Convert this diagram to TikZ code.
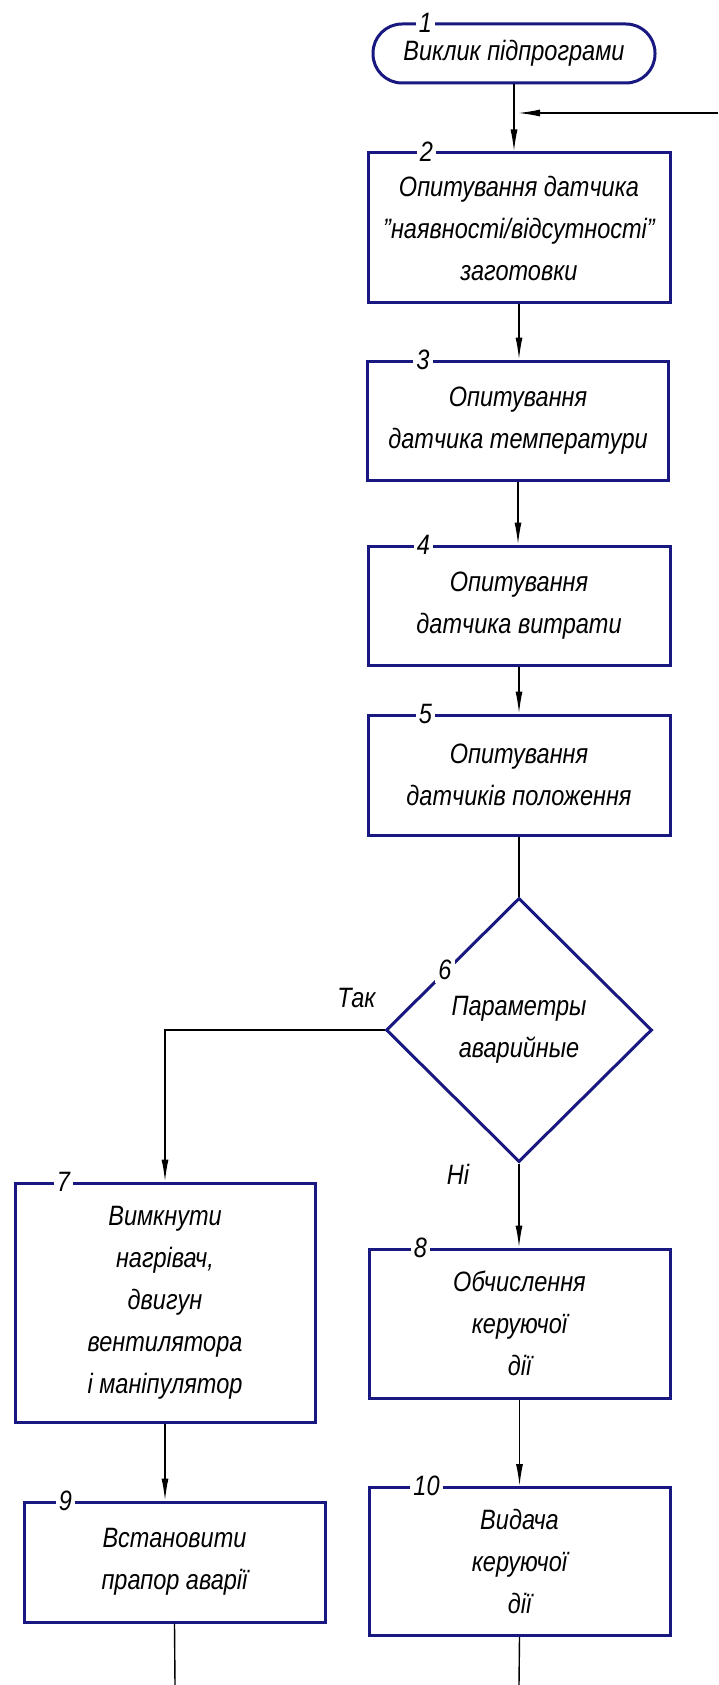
\documentclass[tikz,border=0pt]{standalone}
\usepackage{fontspec}
\setmainfont{Liberation Sans}[FakeStretch=0.84]
\usetikzlibrary{shapes.geometric,arrows.meta,calc}
\definecolor{frameblue}{RGB}{24,24,128}
\begin{document}
\begin{tikzpicture}[x=1pt,y=-1pt,
  every node/.style={font=\fontsize{28}{42}\selectfont\itshape},
  blk/.style={draw=frameblue, line width=3pt, fill=white, rectangle, align=center, inner sep=0pt},
  term/.style={blk, rounded corners=29pt},
  cond/.style={draw=frameblue, line width=3pt, fill=white, diamond, align=center, inner sep=0pt,
               minimum width=266pt, minimum height=264pt},
  num/.style={fill=white, inner sep=3pt},
  link/.style={line width=1.4pt, black},
  arr/.style={link, -{Latex[length=22pt,width=7pt]}},
]
\useasboundingbox (0,0) rectangle (718,1685);

% blocks of the subroutine
\node[term, minimum width=282pt, minimum height=59pt] (t1) at (514,53.5) {Виклик підпрограми};
\node[blk, minimum width=302pt, minimum height=150pt] (b2) at (519,228)
  {Опитування датчика\\"наявності/відсутності"\\заготовки};
\node[blk, minimum width=301pt, minimum height=119pt] (b3) at (518,420.5)
  {Опитування\\датчика температури};
\node[blk, minimum width=302pt, minimum height=119pt] (b4) at (519,605.5)
  {Опитування\\датчика витрати};
\node[blk, minimum width=302pt, minimum height=120pt] (b5) at (519,775)
  {Опитування\\датчиків положення};
\node[cond] (d6) at (519,1030) {Параметры\\аварийные};
\node[blk, minimum width=300pt, minimum height=239pt] (b7) at (165,1302.5)
  {Вимкнути\\нагрівач,\\двигун\\вентилятора\\і маніпулятор};
\node[blk, minimum width=301pt, minimum height=149pt] (b8) at (519.5,1323.5)
  {Обчислення\\керуючої\\дії};
\node[blk, minimum width=301pt, minimum height=120pt] (b9) at (174.5,1562)
  {Встановити\\прапор аварії};
\node[blk, minimum width=301pt, minimum height=148pt] (b10) at (519.5,1561.5)
  {Видача\\керуючої\\дії};

% block numbers set into the frames
\node[num] (n1) at ($(t1.north west)+(54,0)$) {1};
\node[num] (n2) at ($(b2.north west)+(60,0)$) {2};
\node[num] (n3) at ($(b3.north west)+(57,0)$) {3};
\node[num] (n4) at ($(b4.north west)+(57,0)$) {4};
\node[num] (n5) at ($(b5.north west)+(59,0)$) {5};
\node[num] (n6) at ($(d6.west)!0.45!(d6.north)$) {6};
\node[num] (n7) at ($(b7.north west)+(50,0)$) {7};
\node[num] (n8) at ($(b8.north west)+(53,0)$) {8};
\node[num] (n9) at ($(b9.north west)+(43,0)$) {9};
\node[num] (n10) at ($(b10.north west)+(59,0)$) {10};

% branch labels
\node (yes) at ($(d6.west)+(-28,-32)$) {Так};
\node (no) at ($(d6.south)+(-61,11)$) {Ні};

% free ends of the lines
\coordinate (loop) at (718,113);
\coordinate (out9) at (175,1685);
\coordinate (out10) at (519,1685);

% connectors
\draw[arr] (t1.south) -- (t1.south |- b2.north);
\draw[arr, shorten >=4pt] (loop) -- (loop -| t1.south);
\draw[arr] (b2.south) -- (b2.south |- b3.north);
\draw[arr] (b3.south) -- (b3.south |- b4.north);
\draw[arr] (b4.south) -- (b5.north);
\draw[link] (b5.south) -- (d6.north);
\draw[arr] (d6.west) -| (b7.north);
\draw[arr] (d6.south) -- (d6.south |- b8.north);
\draw[arr] (b7.south) -- (b7.south |- b9.north);
\draw[arr] (b8.south) -- (b10.north);
\draw[link] (b9.south) -- (out9);
\draw[link] (b10.south) -- (out10);
\end{tikzpicture}
\end{document}
